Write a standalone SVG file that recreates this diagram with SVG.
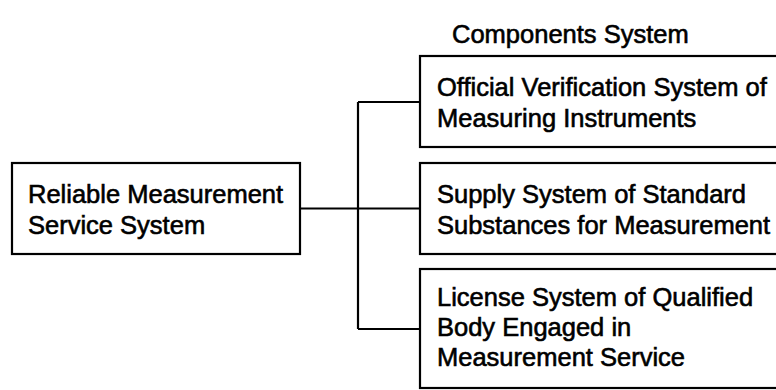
<svg xmlns="http://www.w3.org/2000/svg" width="776" height="390" viewBox="0 0 776 390">
  <style>
    .box { fill: #ffffff; stroke: #000000; stroke-width: 2.2; }
    .wire { fill: none; stroke: #000000; stroke-width: 2.2; }
    text { font-family: "Liberation Sans", Arial, Helvetica, sans-serif; font-size: 25.5px; fill: #000000; stroke: #000000; stroke-width: 0.6; }
  </style>
  <rect width="776" height="390" fill="#ffffff"/>

  <!-- column heading -->
  <g id="heading">
    <text x="452" y="43">Components System</text>
  </g>

  <!-- connectors: trunk from the root, vertical spine, three branches -->
  <g id="connectors">
    <path class="wire" d="M300 208.5 H358"/>
    <path class="wire" d="M358 102 V329"/>
    <path class="wire" d="M358 102 H420"/>
    <path class="wire" d="M358 208.5 H420"/>
    <path class="wire" d="M358 329 H420"/>
  </g>

  <!-- root node -->
  <g id="root">
    <rect class="box" x="12" y="163" width="288" height="91"/>
    <text x="28" y="203">Reliable Measurement</text>
    <text x="28" y="234">Service System</text>
  </g>

  <!-- component nodes (run past the right edge) -->
  <g id="verification">
    <rect class="box" x="420" y="56" width="380" height="91"/>
    <text x="437" y="96">Official Verification System of</text>
    <text x="437" y="127">Measuring Instruments</text>
  </g>

  <g id="substances">
    <rect class="box" x="420" y="163" width="380" height="91"/>
    <text x="437" y="203">Supply System of Standard</text>
    <text x="437" y="234">Substances for Measurement</text>
  </g>

  <g id="license">
    <rect class="box" x="420" y="269" width="380" height="119"/>
    <text x="437" y="306">License System of Qualified</text>
    <text x="437" y="336">Body Engaged in</text>
    <text x="437" y="366">Measurement Service</text>
  </g>
</svg>
